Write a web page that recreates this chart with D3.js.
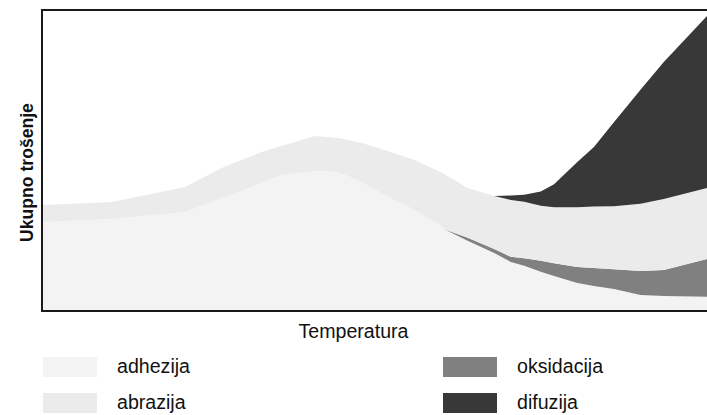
<!DOCTYPE html>
<html>
<head>
<meta charset="utf-8">
<script src="https://cdn.jsdelivr.net/npm/d3@7"></script>
<style>
  html, body { margin: 0; padding: 0; background: #fff; }
  svg { display: block; font-family: "Liberation Sans", Arial, sans-serif; }
</style>
</head>
<body>
<svg id="chart" width="707" height="415"></svg>
<script>
// Temperature positions (relative, 0..100)
const temps = [0, 10.5, 21.5, 27, 33, 36, 41, 44.5, 48, 51.5, 56, 60, 60.5, 64, 68, 70.5, 72.5, 75, 77, 80.5, 83, 86, 90, 93.5, 100];

// Series values (stack order bottom -> top)
const adhezija   = [29.6, 30.6, 32.9, 37.5, 42.5, 45.2, 46.5, 46.2, 42.9, 38.5, 33.6, 28.2, 27.2, 23.3, 19.3, 16.3, 15.0, 13.0, 11.6, 9.3, 8.3, 7.3, 5.3, 5.0, 4.7];
const oksidacija = [0, 0, 0, 0, 0, 0, 0, 0, 0, 0, 0, 0, 0, 1.0, 1.3, 1.7, 2.5, 3.7, 4.3, 5.3, 6.0, 6.6, 8.0, 8.6, 12.6];
const abrazija   = [5.6, 5.6, 8.3, 10.0, 10.3, 9.6, 11.6, 11.3, 13.0, 15.0, 16.6, 17.9, 18.3, 16.6, 17.6, 18.9, 18.8, 18.3, 18.6, 19.9, 20.4, 20.9, 22.3, 23.6, 23.6];
const difuzija   = [0, 0, 0, 0, 0, 0, 0, 0, 0, 0, 0, 0, 0, 0, 0, 1.5, 2.3, 4.7, 7.6, 15.0, 19.8, 27.9, 37.9, 45.5, 57.1];

const seriesKeys = ["adhezija", "oksidacija", "abrazija", "difuzija"];
const seriesColors = ["#f3f3f3", "#808080", "#ebebeb", "#383838"];

const xLabel = "Temperatura";
const yLabel = "Ukupno trošenje";

const rows = temps.map((t, i) => ({
  t,
  adhezija: adhezija[i],
  oksidacija: oksidacija[i],
  abrazija: abrazija[i],
  difuzija: difuzija[i]
}));

const svg = d3.select("#chart");
const mLeft = 42, mRight = 707, mTop = 10, mBottom = 311;

const x = d3.scaleLinear().domain([0, 100]).range([mLeft, mRight]);
const y = d3.scaleLinear().domain([0, 100]).range([mBottom, mTop]);

const stacked = d3.stack().keys(seriesKeys)(rows);

svg.append("defs").append("clipPath").attr("id", "clip")
  .append("rect").attr("x", mLeft).attr("y", mTop).attr("width", mRight - mLeft + 2).attr("height", mBottom - mTop);

const area = d3.area()
  .x(d => x(d.data.t))
  .y0(d => y(d[0]))
  .y1(d => y(d[1]))
  .curve(d3.curveLinear);

svg.append("g").attr("clip-path", "url(#clip)")
  .selectAll("path")
  .data(stacked)
  .join("path")
  .attr("fill", (d, i) => seriesColors[i])
  .attr("d", area);

// Frame
svg.append("rect")
  .attr("x", mLeft).attr("y", mTop)
  .attr("width", mRight - mLeft + 10).attr("height", mBottom - mTop)
  .attr("fill", "none")
  .attr("stroke", "#1a1a1a")
  .attr("stroke-width", 2);

// Axis titles
svg.append("text")
  .attr("x", 353.5).attr("y", 338)
  .attr("text-anchor", "middle")
  .attr("font-size", 19.6)
  .attr("fill", "#111")
  .text(xLabel);

svg.append("text")
  .attr("transform", "translate(33,172.5) rotate(-90)")
  .attr("text-anchor", "middle")
  .attr("font-size", 17.6)
  .attr("font-weight", "bold")
  .attr("fill", "#111")
  .text(yLabel);

// Legend (row-major, two columns)
const legend = svg.append("g");
seriesKeys.forEach((k, i) => {
  const col = i % 2, row = Math.floor(i / 2);
  const lx = 43 + col * 400, ly = 357 + row * 36;
  legend.append("rect")
    .attr("x", lx).attr("y", ly)
    .attr("width", 54).attr("height", 20)
    .attr("fill", seriesColors[i]);
  legend.append("text")
    .attr("x", lx + 74).attr("y", ly + 16)
    .attr("font-size", 19.6)
    .attr("fill", "#111")
    .text(k);
});
</script>
</body>
</html>
